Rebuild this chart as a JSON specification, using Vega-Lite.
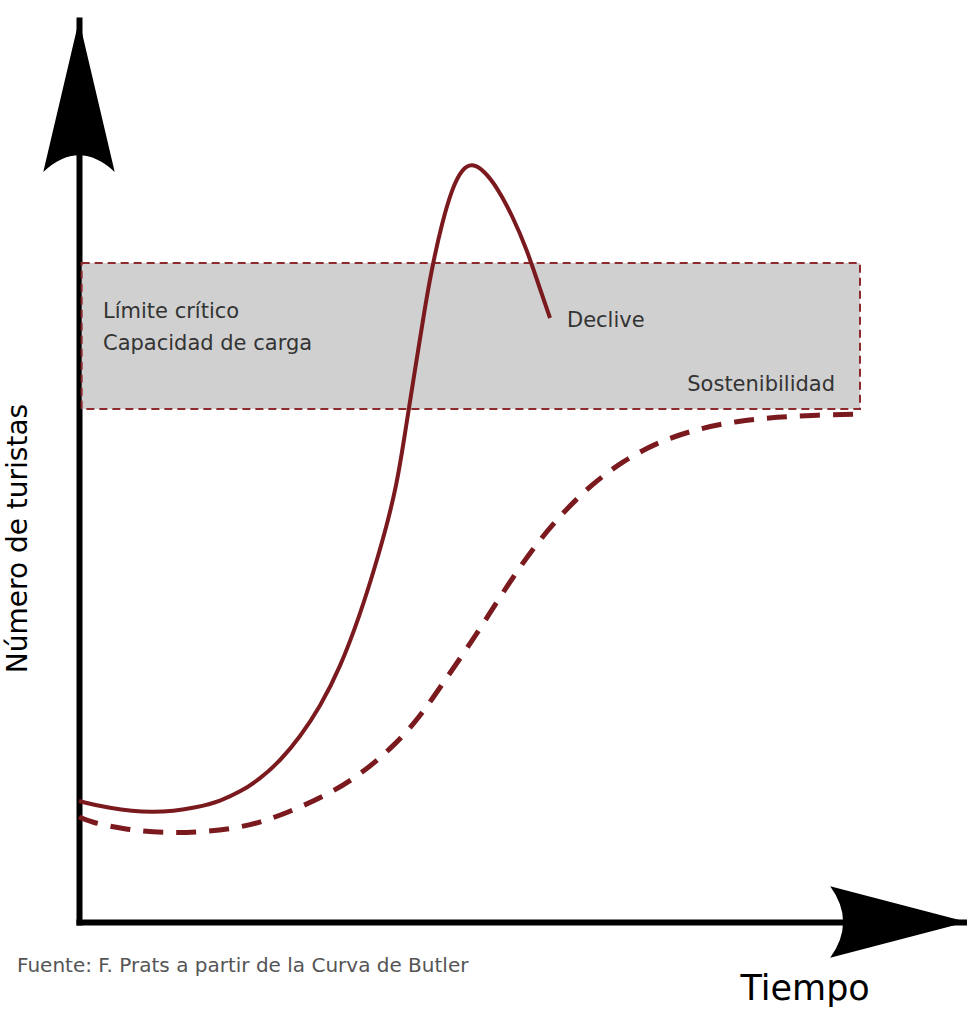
{
  "$schema": "https://vega.github.io/schema/vega-lite/v6.json",
  "width": 888,
  "height": 902,
  "autosize": {"type": "none"},
  "padding": {"left": 79, "top": 20, "right": 0, "bottom": 87},
  "background": "white",
  "config": {
    "view": {"stroke": null},
    "font": "DejaVu Sans",
    "axis": {
      "domainColor": "black",
      "domainWidth": 6,
      "domainCap": "square",
      "ticks": false,
      "labels": false,
      "grid": false,
      "zindex": 1,
      "titleFont": "DejaVu Sans",
      "titleFontWeight": "normal",
      "titleColor": "black"
    }
  },
  "datasets": {
    "butler": [
      {"t": 0, "n": 13.41},
      {"t": 3.15, "n": 12.64},
      {"t": 8.33, "n": 11.97},
      {"t": 13.63, "n": 12.75},
      {"t": 15.88, "n": 13.41},
      {"t": 18.13, "n": 14.41},
      {"t": 20.38, "n": 15.85},
      {"t": 22.64, "n": 17.85},
      {"t": 24.89, "n": 20.51},
      {"t": 27.14, "n": 23.84},
      {"t": 29.39, "n": 28.16},
      {"t": 31.64, "n": 34.04},
      {"t": 33.33, "n": 39.36},
      {"t": 34.68, "n": 44.01},
      {"t": 35.81, "n": 48.67},
      {"t": 36.6, "n": 53.44},
      {"t": 37.3, "n": 57.9},
      {"t": 38.18, "n": 63.3},
      {"t": 38.96, "n": 68.18},
      {"t": 39.86, "n": 73.06},
      {"t": 40.88, "n": 77.49},
      {"t": 42.0, "n": 81.3},
      {"t": 43.13, "n": 83.5},
      {"t": 44.26, "n": 84.1},
      {"t": 45.5, "n": 83.4},
      {"t": 47.07, "n": 81.49},
      {"t": 48.87, "n": 78.16},
      {"t": 50.45, "n": 74.5},
      {"t": 51.69, "n": 70.84},
      {"t": 53.04, "n": 66.96}
    ],
    "sostenible": [
      {"t": 0, "n": 11.64},
      {"t": 1.24, "n": 11.09},
      {"t": 5.41, "n": 10.2},
      {"t": 9.91, "n": 9.87},
      {"t": 14.41, "n": 9.98},
      {"t": 19.26, "n": 10.64},
      {"t": 23.42, "n": 12.08},
      {"t": 27.93, "n": 14.08},
      {"t": 31.64, "n": 16.3},
      {"t": 35.36, "n": 19.4},
      {"t": 38.4, "n": 22.73},
      {"t": 40.99, "n": 26.5},
      {"t": 43.69, "n": 30.3},
      {"t": 46.28, "n": 34.26},
      {"t": 48.87, "n": 38.25},
      {"t": 51.58, "n": 42.02},
      {"t": 54.5, "n": 45.4},
      {"t": 57.77, "n": 48.56},
      {"t": 61.26, "n": 51.1},
      {"t": 65.2, "n": 53.22},
      {"t": 69.59, "n": 54.66},
      {"t": 74.1, "n": 55.54},
      {"t": 78.6, "n": 55.99},
      {"t": 83.11, "n": 56.21},
      {"t": 88.18, "n": 56.32}
    ],
    "banda": [
      {"t0": 0.3, "t1": 87.95, "n0": 56.87, "n1": 73.06}
    ],
    "etiquetas": [
      {"t": 2.7, "n": 66.96, "texto": "Límite crítico"},
      {"t": 2.7, "n": 63.41, "texto": "Capacidad de carga"},
      {"t": 54.95, "n": 65.96, "texto": "Declive"}
    ],
    "etiquetaDer": [
      {"t": 85.14, "n": 58.87, "texto": "Sostenibilidad"}
    ],
    "fuente": [
      {"t": -6.98, "n": -5.54, "texto": "Fuente: F. Prats a partir de la Curva de Butler"}
    ],
    "flechaY": [{"t": 0, "n": 100}],
    "flechaX": [{"t": 100, "n": 0}]
  },
  "layer": [
    {
      "data": {"name": "banda"},
      "mark": {"type": "rect", "fill": "#d0d0d0", "stroke": "#8c2a2e", "strokeWidth": 2, "strokeDash": [8, 5]},
      "encoding": {
        "x": {"field": "t0", "type": "quantitative", "scale": {"domain": [0, 100], "nice": false, "zero": false},
          "axis": {"title": "Tiempo", "titleFontSize": 35, "titleAlign": "left", "titleAnchor": null, "titleBaseline": "alphabetic", "titleX": 661, "titleY": 77}},
        "x2": {"field": "t1"},
        "y": {"field": "n0", "type": "quantitative", "scale": {"domain": [0, 100], "nice": false, "zero": false},
          "axis": {"title": "Número de turistas", "titleFontSize": 28, "titleAngle": 270, "titleAlign": "center", "titleBaseline": "alphabetic", "titleX": -53, "titleY": 518}},
        "y2": {"field": "n1"}
      }
    },
    {
      "data": {"name": "sostenible"},
      "mark": {"type": "line", "color": "#7b1a1e", "strokeWidth": 5, "strokeDash": [20, 13], "interpolate": "basis"},
      "encoding": {
        "x": {"field": "t", "type": "quantitative"},
        "y": {"field": "n", "type": "quantitative"}
      }
    },
    {
      "data": {"name": "butler"},
      "mark": {"type": "line", "color": "#7b1a1e", "strokeWidth": 4, "interpolate": "basis"},
      "encoding": {
        "x": {"field": "t", "type": "quantitative"},
        "y": {"field": "n", "type": "quantitative"}
      }
    },
    {
      "data": {"name": "etiquetas"},
      "mark": {"type": "text", "align": "left", "baseline": "alphabetic", "fontSize": 21, "color": "#333333"},
      "encoding": {
        "x": {"field": "t", "type": "quantitative"},
        "y": {"field": "n", "type": "quantitative"},
        "text": {"field": "texto"}
      }
    },
    {
      "data": {"name": "etiquetaDer"},
      "mark": {"type": "text", "align": "right", "baseline": "alphabetic", "fontSize": 21, "color": "#333333"},
      "encoding": {
        "x": {"field": "t", "type": "quantitative"},
        "y": {"field": "n", "type": "quantitative"},
        "text": {"field": "texto"}
      }
    },
    {
      "data": {"name": "fuente"},
      "mark": {"type": "text", "align": "left", "baseline": "alphabetic", "fontSize": 20, "color": "#555555"},
      "encoding": {
        "x": {"field": "t", "type": "quantitative"},
        "y": {"field": "n", "type": "quantitative"},
        "text": {"field": "texto"}
      }
    },
    {
      "data": {"name": "flechaY"},
      "mark": {"type": "point", "shape": "M0,0 L0.47,2 Q0,1.56 -0.47,2 Z", "size": 23104, "filled": true, "opacity": 1, "color": "black", "strokeWidth": 0},
      "encoding": {
        "x": {"field": "t", "type": "quantitative"},
        "y": {"field": "n", "type": "quantitative"}
      }
    },
    {
      "data": {"name": "flechaX"},
      "mark": {"type": "point", "shape": "M0,0 L-1.8,-0.47 Q-1.46,0 -1.8,0.47 Z", "size": 23104, "filled": true, "opacity": 1, "color": "black", "strokeWidth": 0},
      "encoding": {
        "x": {"field": "t", "type": "quantitative"},
        "y": {"field": "n", "type": "quantitative"}
      }
    }
  ]
}
